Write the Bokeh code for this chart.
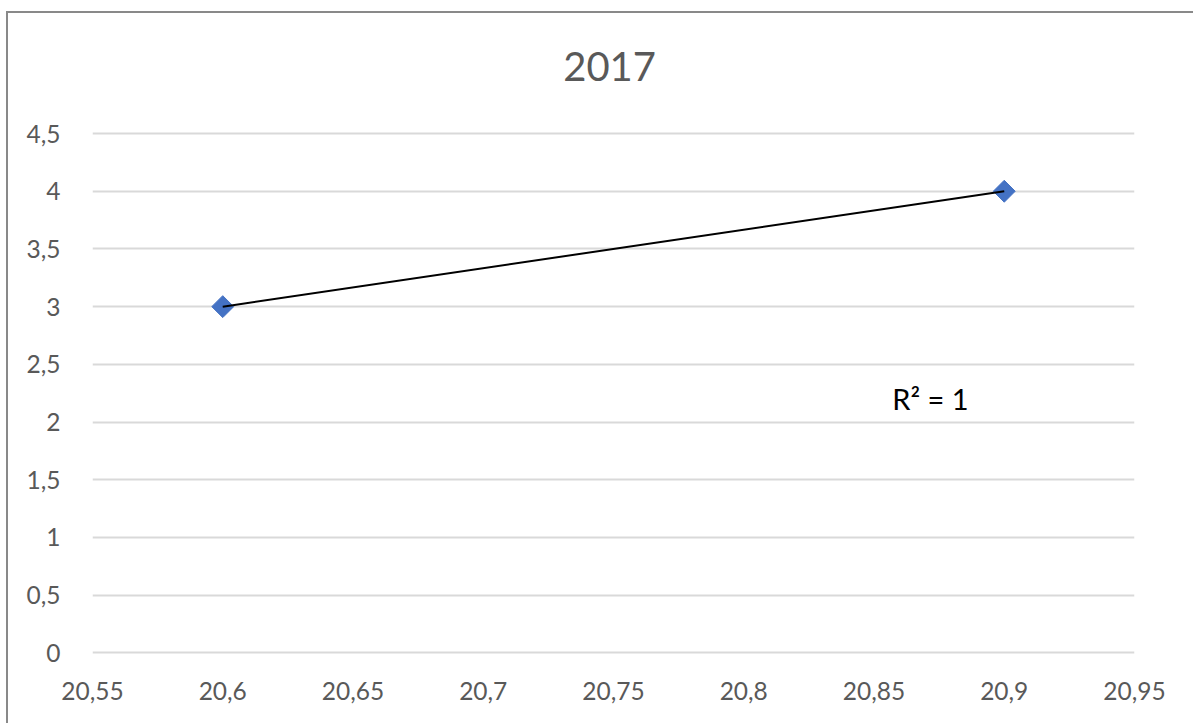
import numpy as np
from bokeh.plotting import figure
from bokeh.models import FixedTicker, Label
from bokeh.embed import file_html
from bokeh.resources import INLINE

# Observations for 2017
x_values = [20.6, 20.9]
y_values = [3, 4]

# Axis ticks and their comma-decimal labels
x_ticks = [20.55, 20.6, 20.65, 20.7, 20.75, 20.8, 20.85, 20.9, 20.95]
x_tick_labels = ["20,55", "20,6", "20,65", "20,7", "20,75", "20,8", "20,85", "20,9", "20,95"]
y_ticks = [0, 0.5, 1, 1.5, 2, 2.5, 3, 3.5, 4, 4.5]
y_tick_labels = ["0", "0,5", "1", "1,5", "2", "2,5", "3", "3,5", "4", "4,5"]

TITLE = "2017"

FONT = "Lato"
TEXT_GREY = "#595959"
GRID_GREY = "#d9d9d9"
BLUE = "#4472c4"

# The plotting frame reaches up to the top edge so the heading sits inside it;
# grid lines are only drawn at the fixed ticks (0 .. 4.5).
p = figure(
    width=1187, height=712, margin=(11, 0, 0, 6),
    x_range=(20.55, 20.95), y_range=(-0.04, 5.54),
    output_backend="svg", toolbar_location=None,
    min_border_left=84, min_border_right=61,
    min_border_top=0, min_border_bottom=68,
)
p.styles = {"border-left": "2px solid #898989", "border-top": "2px solid #898989"}

p.outline_line_color = None
p.xgrid.grid_line_color = None
p.ygrid.grid_line_color = GRID_GREY
p.ygrid.grid_line_width = 2

for ax in (p.xaxis, p.yaxis):
    ax.axis_line_color = None
    ax.major_tick_line_color = None
    ax.minor_tick_line_color = None
    ax.major_label_text_font = FONT
    ax.major_label_text_font_size = "24.5px"
    ax.major_label_text_color = TEXT_GREY

p.xaxis.ticker = FixedTicker(ticks=x_ticks)
p.xaxis.major_label_overrides = dict(zip(x_ticks, x_tick_labels))
p.xaxis.major_label_standoff = 18
p.yaxis.ticker = FixedTicker(ticks=y_ticks)
p.yaxis.major_label_overrides = dict(zip(y_ticks, y_tick_labels))
p.yaxis.major_label_standoff = 26

# Chart heading
p.add_layout(Label(x=20.7485, y=5.08, text=TITLE, text_align="center",
                   text_baseline="middle", text_font=FONT, text_font_size="40px",
                   text_color=TEXT_GREY))

p.scatter(x_values, y_values, marker="square", angle=np.pi / 4, size=15.5,
          fill_color=BLUE, line_color=BLUE)

# Linear trendline and its coefficient of determination
slope, intercept = np.polyfit(x_values, y_values, 1)
fit_x = [min(x_values), max(x_values)]
fit_y = [slope * v + intercept for v in fit_x]
pred = np.polyval([slope, intercept], x_values)
ss_res = float(np.sum((np.array(y_values) - pred) ** 2))
ss_tot = float(np.sum((np.array(y_values) - np.mean(y_values)) ** 2))
r2 = 1 - ss_res / ss_tot
p.line(fit_x, fit_y, line_color="black", line_width=2)

p.add_layout(Label(x=20.857, y=2.2, text=f"R\u00b2 = {round(r2):d}",
                   text_font=FONT, text_font_size="29px", text_color="black",
                   text_baseline="middle"))

open("out.html", "w").write(file_html(p, INLINE))
